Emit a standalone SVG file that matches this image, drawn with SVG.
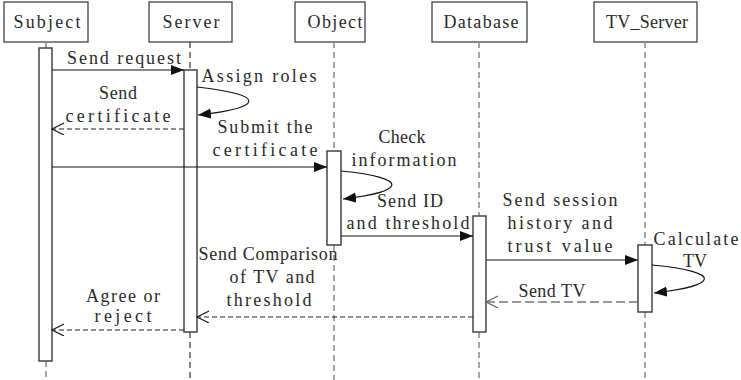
<svg xmlns="http://www.w3.org/2000/svg" width="741" height="380" viewBox="0 0 741 380">
<style>
  text { font-family: "Liberation Serif", "DejaVu Serif", serif; font-size: 18px; fill: #2a2a2a; text-anchor: middle; font-kerning: none; }
  .box { fill: #fff; stroke: #333; stroke-width: 1.2; }
  .act { fill: #fff; stroke: #444; stroke-width: 1.5; }
  .life { stroke: #333; stroke-width: 1.2; stroke-dasharray: 6 4; fill: none; }
  .lifeg { stroke: #888; stroke-width: 1.5; stroke-dasharray: 6 4; fill: none; }
  .msg { stroke: #111; stroke-width: 1.2; fill: none; }
  .ret { stroke: #222; stroke-width: 1.2; fill: none; stroke-dasharray: 5 3; }
  .retg { stroke: #777; stroke-width: 1.5; fill: none; stroke-dasharray: 9 4; }
</style>
<defs>
  <marker id="fill" markerUnits="userSpaceOnUse" markerWidth="14" markerHeight="12" refX="13" refY="5" orient="auto">
    <path d="M0,0 L13,5 L0,10 z" fill="#111"/>
  </marker>
  <marker id="open" markerUnits="userSpaceOnUse" markerWidth="14" markerHeight="14" refX="12" refY="6" orient="auto">
    <path d="M0,0 L12,6 L0,12" fill="none" stroke="#222" stroke-width="1.2"/>
  </marker>
  <marker id="openg" markerUnits="userSpaceOnUse" markerWidth="14" markerHeight="14" refX="12" refY="6" orient="auto">
    <path d="M0,0 L12,6 L0,12" fill="none" stroke="#666" stroke-width="1.2"/>
  </marker>
</defs>

<g id="subject">
  <rect class="box" x="4" y="2" width="84" height="40"/>
  <text x="47" y="28" textLength="67">Subject</text>
  <line class="lifeg" x1="46" y1="42" x2="46" y2="48"/>
  <line class="lifeg" x1="46" y1="361" x2="46" y2="380"/>
  <rect class="act" x="39" y="48" width="13" height="313"/>
</g>

<g id="server">
  <rect class="box" x="149" y="2" width="83" height="40"/>
  <text x="191" y="28" textLength="57">Server</text>
  <line class="life" x1="190" y1="42" x2="190" y2="70"/>
  <line class="life" x1="190" y1="332" x2="190" y2="380"/>
  <rect class="act" x="184" y="70" width="13" height="262"/>
</g>

<g id="object">
  <rect class="box" x="295" y="2" width="70" height="40"/>
  <text x="335" y="28" textLength="55">Object</text>
  <line class="lifeg" x1="334" y1="42" x2="334" y2="151"/>
  <line class="lifeg" x1="334" y1="245" x2="334" y2="380"/>
  <rect class="act" x="327" y="151" width="14" height="94"/>
</g>

<g id="database">
  <rect class="box" x="432" y="2" width="95" height="40"/>
  <text x="481" y="28" textLength="75">Database</text>
  <line class="lifeg" x1="479" y1="42" x2="479" y2="216"/>
  <line class="lifeg" x1="479" y1="332" x2="479" y2="380"/>
  <rect class="act" x="473" y="216" width="13" height="116"/>
</g>

<g id="tv_server">
  <rect class="box" x="594" y="2" width="103" height="40"/>
  <text x="647" y="28" textLength="82">TV_Server</text>
  <line class="lifeg" x1="645" y1="42" x2="645" y2="245"/>
  <line class="lifeg" x1="645" y1="312" x2="645" y2="380"/>
  <rect class="act" x="638" y="245" width="14" height="67"/>
</g>

<g id="connectors">
  <line class="msg" x1="52" y1="70" x2="184" y2="70" marker-end="url(#fill)"/>
  <text x="124" y="64" textLength="114">Send request</text>

  <path class="msg" d="M197,87 C270,95 262,108 198,115" marker-end="url(#fill)"/>
  <text x="259" y="82" textLength="115">Assign roles</text>

  <line class="ret" x1="184" y1="129" x2="52" y2="129" marker-end="url(#open)"/>
  <text x="118" y="99" textLength="38">Send</text>
  <text x="118" y="122" textLength="105">certificate</text>

  <line class="msg" x1="52" y1="167" x2="327" y2="167" marker-end="url(#fill)"/>
  <text x="265" y="133" textLength="95">Submit the</text>
  <text x="265" y="156" textLength="105">certificate</text>

  <path class="msg" d="M341,171 C412,178 405,192 343,199" marker-end="url(#fill)"/>
  <text x="402" y="143" textLength="47">Check</text>
  <text x="404" y="166" textLength="105">information</text>

  <line class="msg" x1="341" y1="236" x2="473" y2="236" marker-end="url(#fill)"/>
  <text x="410" y="207" textLength="66">Send ID</text>
  <text x="408" y="229" textLength="123">and threshold</text>

  <line class="msg" x1="486" y1="260" x2="638" y2="260" marker-end="url(#fill)"/>
  <text x="560" y="206" textLength="115">Send session</text>
  <text x="560" y="229" textLength="105">history and</text>
  <text x="560" y="252" textLength="105">trust value</text>

  <path class="msg" d="M652,265 C725,272 718,286 654,293" marker-end="url(#fill)"/>
  <text x="696" y="245" textLength="85">Calculate</text>
  <text x="695" y="267">TV</text>

  <line class="retg" x1="638" y1="302" x2="486" y2="302" marker-end="url(#openg)"/>
  <text x="552" y="297" textLength="67">Send TV</text>

  <line class="ret" x1="473" y1="317" x2="197" y2="317" marker-end="url(#open)"/>
  <text x="268" y="260" textLength="139">Send Comparison</text>
  <text x="272" y="283" textLength="85">of TV and</text>
  <text x="269" y="306" textLength="85">threshold</text>

  <line class="ret" x1="184" y1="330" x2="52" y2="330" marker-end="url(#open)"/>
  <text x="123" y="302" textLength="74">Agree or</text>
  <text x="123" y="322" textLength="57">reject</text>
</g>
</svg>
